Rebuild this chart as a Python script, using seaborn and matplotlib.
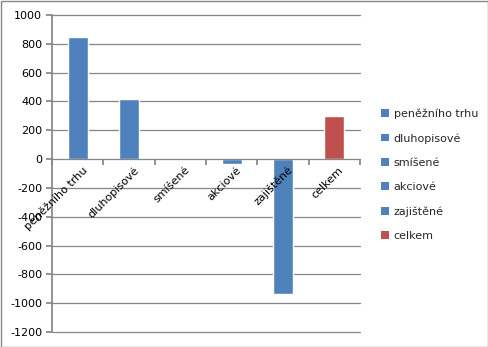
import matplotlib
matplotlib.use("Agg")
import matplotlib.pyplot as plt
import matplotlib.transforms as mtransforms
import seaborn as sns
import pandas as pd
from matplotlib.patches import Patch, Rectangle

categories = ["peněžního trhu", "dluhopisové", "smíšené", "akciové", "zajištěné", "celkem"]
values = [847, 416, 10, -35, -935, 298]
bar_colors = ["#4F81BD", "#4F81BD", "#4F81BD", "#4F81BD", "#4F81BD", "#C0504D"]
yticks = [-1200, -1000, -800, -600, -400, -200, 0, 200, 400, 600, 800, 1000]

df = pd.DataFrame({"kategorie": categories, "hodnota": values})

sns.set_theme(style="white")
plt.rcParams["font.family"] = ["DejaVu Sans"]

fig = plt.figure(figsize=(4.89, 3.47), dpi=100)
ax = fig.add_axes([52 / 489, 15 / 347, 308 / 489, 317 / 347])

sns.barplot(data=df, x="kategorie", y="hodnota", hue="kategorie",
            palette=dict(zip(categories, bar_colors)), dodge=False,
            width=0.39, legend=False, ax=ax, saturation=1, zorder=1)

ax.set_ylim(-1200, 1000)
ax.set_xlim(-0.5, len(categories) - 0.5)
ax.set_yticks(yticks)
ax.set_yticklabels([str(t) for t in yticks], fontsize=8, color="black")

# horizontal gridlines behind the bars, axis labels above them
ax.grid(False)
for t in yticks:
    if t != 0:
        ax.axhline(t, color="#868686", linewidth=0.9, zorder=0.2, clip_on=False)
ax.set_axisbelow(False)
ax.set_xlabel("")
ax.set_ylabel("")

for s in ["top", "right"]:
    ax.spines[s].set_visible(False)
ax.spines["left"].set_color("#868686")
ax.spines["bottom"].set_color("#868686")
ax.spines["bottom"].set_linewidth(0.9)
ax.spines["bottom"].set_position(("data", 0))

# category ticks sit between the bars, labels under each bar
ax.set_xticks([i - 0.5 for i in range(len(categories) + 1)], minor=False)
ax.set_xticklabels([])
ax.set_xticks(range(len(categories)), minor=True)
ax.set_xticklabels(categories, minor=True, rotation=45, ha="right", va="top",
                   rotation_mode="anchor", fontsize=8, color="black")
ax.tick_params(axis="x", which="major", direction="out", length=4, color="#868686", bottom=True)
ax.tick_params(axis="x", which="minor", length=0, pad=4)
ax.tick_params(axis="y", direction="out", length=4, color="#868686", left=True, pad=3)
for lbl in ax.get_xticklabels(minor=True):
    lbl.set_transform(lbl.get_transform() + mtransforms.ScaledTranslation(3 / 72, 0, fig.dpi_scale_trans))

handles = [Patch(facecolor=c, edgecolor="none") for c in bar_colors]
fig.legend(handles, categories, loc="upper left", bbox_to_anchor=(377 / 489, 1 - 104 / 347),
           frameon=False, fontsize=8, handlelength=0.65, handleheight=0.65,
           handletextpad=0.45, labelspacing=1.28, borderaxespad=0)

fig.patches.append(Rectangle((0.5 / 489, 0.5 / 347), 1 - 1.5 / 489, 1 - 1.5 / 347,
                             transform=fig.transFigure, fill=False,
                             edgecolor="#868686", linewidth=1))

fig.savefig("out.png", dpi=100)
